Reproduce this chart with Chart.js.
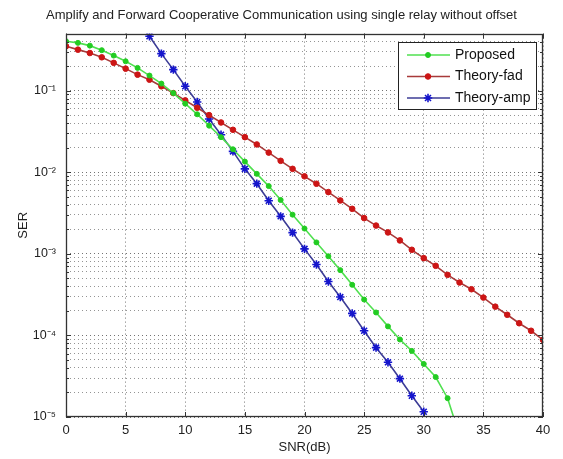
<!DOCTYPE html>
<html>
<head>
<meta charset="utf-8">
<script src="https://cdn.jsdelivr.net/npm/chart.js"></script>
<style>
  body { margin: 0; background: #fff; }
  #wrap { width: 563px; height: 459px; }
</style>
</head>
<body>
<div id="wrap"><canvas id="myChart" width="563" height="459"></canvas></div>
<script>
const snrProp = [0,1,2,3,4,5,6,7,8,9,10,11,12,13,14,15,16,17,18,19,20,21,22,23,24,25,26,27,28,29,30,31,32,33];
const serProp = [0.403,0.385,0.356,0.313,0.269,0.229,0.190,0.153,0.122,0.0933,
  0.0692,0.0513,0.0372,0.0269,0.0191,0.0135,0.00955,0.00676,0.00457,0.00302,
  0.00204,0.00138,0.000933,0.000631,0.000417,0.000275,0.000191,0.000129,0.0000891,0.0000646,
  0.0000447,0.0000309,0.0000170,0.0000059];

const snrFad = [0,1,2,3,4,5,6,7,8,9,10,11,12,13,14,15,16,17,18,19,20,21,22,23,24,25,26,27,28,29,30,31,32,33,34,35,36,37,38,39,40];
const serFad = [0.350,0.318,0.289,0.256,0.219,0.186,0.157,0.136,0.113,0.0933,
  0.0759,0.0617,0.0501,0.0407,0.0331,0.0269,0.0219,0.0174,0.0138,0.0110,
  0.00891,0.00723,0.00571,0.00451,0.00356,0.00274,0.00222,0.00183,0.00146,0.00112,
  0.000885,0.000713,0.000552,0.000445,0.000368,0.000291,0.000225,0.000179,0.000141,0.000114,0.0000881];

const snrAmp = [7,8,9,10,11,12,13,14,15,16,17,18,19,20,21,22,23,24,25,26,27,28,29,30];
const serAmp = [0.463,0.284,0.181,0.113,0.0724,0.0450,0.0288,0.0180,0.0110,0.00724,
  0.00447,0.00288,0.00182,0.00115,0.000741,0.000457,0.000295,0.000186,0.000114,0.0000708,
  0.0000468,0.0000295,0.0000182,0.0000116];

const xTicks = [0,5,10,15,20,25,30,35,40];
const yDecades = [1e-5,1e-4,1e-3,1e-2,1e-1];
const yTickLabels = ['10⁻⁵','10⁻⁴','10⁻³','10⁻²','10⁻¹'];
const yMinor = [2,3,4,5,6,7,8,9];
const yMax = 0.5;

const fontFamily = '"Liberation Sans", Arial, Helvetica, sans-serif';
Chart.defaults.font.family = fontFamily;
Chart.defaults.color = '#222';

function toPoints(xs, ys) {
  return xs.map((x, i) => ({x: x, y: ys[i]}));
}

let yGrid = [];
yDecades.forEach(d => {
  yGrid.push(d);
  yMinor.forEach(m => { if (m * d < yMax - 1e-9) yGrid.push(m * d); });
});

// axes box with inward ticks, like matlab
const matlabFrame = {
  id: 'matlabFrame',
  afterDraw(chart) {
    const ctx = chart.ctx, a = chart.chartArea;
    const xs = chart.scales.x, ys = chart.scales.y;
    ctx.save();
    ctx.strokeStyle = '#333';
    ctx.lineWidth = 1;
    ctx.beginPath();
    xTicks.forEach(v => {
      const p = Math.round(xs.getPixelForValue(v)) + 0.5;
      ctx.moveTo(p, a.bottom); ctx.lineTo(p, a.bottom - 5);
      ctx.moveTo(p, a.top); ctx.lineTo(p, a.top + 5);
    });
    yGrid.forEach(v => {
      const len = yDecades.includes(v) ? 5 : 3;
      const p = Math.round(ys.getPixelForValue(v)) + 0.5;
      ctx.moveTo(a.left, p); ctx.lineTo(a.left + len, p);
      ctx.moveTo(a.right, p); ctx.lineTo(a.right - len, p);
    });
    ctx.stroke();
    ctx.lineWidth = 1.3;
    ctx.strokeRect(Math.round(a.left) + 0.5, Math.round(a.top) + 0.5, Math.round(a.width) - 1, Math.round(a.height) - 1);
    ctx.restore();
  }
};

const boxLegend = {
  id: 'boxLegend',
  afterDraw(chart) {
    const ctx = chart.ctx, a = chart.chartArea;
    const x0 = Math.round(a.right) - 145, y0 = Math.round(a.top) + 8, w = 138, h = 67;
    ctx.save();
    ctx.fillStyle = '#fff';
    ctx.fillRect(x0, y0, w, h);
    ctx.strokeStyle = '#222';
    ctx.lineWidth = 1;
    ctx.strokeRect(x0 + 0.5, y0 + 0.5, w, h);
    chart.data.datasets.forEach((ds, i) => {
      const y = y0 + 13 + i * 21.5;
      ctx.strokeStyle = ds.borderColor;
      ctx.lineWidth = ds.borderWidth;
      ctx.beginPath();
      ctx.moveTo(x0 + 9, y);
      ctx.lineTo(x0 + 52, y);
      ctx.stroke();
      ctx.fillStyle = ds.pointBackgroundColor;
      ctx.strokeStyle = ds.pointBorderColor;
      ctx.lineWidth = ds.pointBorderWidth;
      Chart.helpers.drawPoint(ctx, {pointStyle: ds.pointStyle, radius: ds.pointRadius, borderWidth: ds.pointBorderWidth, rotation: 0}, x0 + 30, y);
      ctx.fillStyle = '#111';
      ctx.font = '14px ' + fontFamily;
      ctx.textBaseline = 'middle';
      ctx.textAlign = 'left';
      ctx.fillText(ds.label, x0 + 57, y);
    });
    ctx.restore();
  }
};

const ctx = document.getElementById('myChart');

new Chart(ctx, {
  type: 'line',
  data: {
    datasets: [{
      label: 'Proposed',
      data: toPoints(snrProp, serProp),
      borderColor: '#50e050',
      borderWidth: 1.6,
      pointStyle: 'circle',
      pointRadius: 2.5,
      pointBackgroundColor: '#22cc22',
      pointBorderColor: '#22cc22',
      pointBorderWidth: 1
    }, {
      label: 'Theory-fad',
      data: toPoints(snrFad, serFad),
      borderColor: '#a83a3a',
      borderWidth: 1.6,
      pointStyle: 'circle',
      pointRadius: 2.8,
      pointBackgroundColor: '#cc1515',
      pointBorderColor: '#cc1515',
      pointBorderWidth: 1
    }, {
      label: 'Theory-amp',
      data: toPoints(snrAmp, serAmp),
      borderColor: '#3c3c96',
      borderWidth: 1.6,
      pointStyle: 'star',
      pointRadius: 4.2,
      pointBackgroundColor: '#1515cc',
      pointBorderColor: '#1515cc',
      pointBorderWidth: 1.6
    }]
  },
  options: {
    responsive: false,
    animation: false,
    layout: { padding: 0 },
    plugins: {
      legend: { display: false },
      tooltip: { enabled: false },
      title: {
        display: true,
        text: 'Amplify and Forward Cooperative Communication using single relay without offset',
        font: { size: 13, weight: 'normal' },
        color: '#222',
        padding: { top: 8, bottom: 10 }
      }
    },
    scales: {
      x: {
        type: 'linear',
        min: 0,
        max: 40,
        afterBuildTicks: scale => { scale.ticks = xTicks.map(v => ({value: v})); },
        afterFit: scale => { scale.height = 42; },
        ticks: { font: { size: 13 }, padding: 6, color: '#222' },
        grid: { color: 'rgba(0,0,0,0.55)', drawTicks: false },
        border: { display: false, dash: [1, 3] },
        title: { display: true, text: 'SNR(dB)', font: { size: 13 }, padding: { top: 0, bottom: 4 }, color: '#222' }
      },
      y: {
        type: 'logarithmic',
        min: 1e-5,
        max: yMax,
        afterBuildTicks: scale => { scale.ticks = yGrid.map(v => ({value: v})); },
        afterFit: scale => { scale.width = 66; },
        ticks: {
          autoSkip: false,
          font: { size: 12.5 },
          padding: 10,
          color: '#222',
          callback: value => {
            const i = yDecades.indexOf(value);
            return i >= 0 ? yTickLabels[i] : '';
          }
        },
        grid: {
          color: c => yDecades.includes(c.tick.value) ? 'rgba(0,0,0,0.55)' : 'rgba(0,0,0,0.42)',
          drawTicks: false
        },
        border: { display: false, dash: [1, 3] },
        title: { display: true, text: 'SER', font: { size: 13 }, padding: { top: 16, bottom: 0 }, color: '#222' }
      },
      yRight: {
        position: 'right',
        display: true,
        afterFit: scale => { scale.width = 20; },
        ticks: { display: false },
        grid: { display: false, drawTicks: false },
        border: { display: false }
      }
    }
  },
  plugins: [matlabFrame, boxLegend]
});
</script>
</body>
</html>
